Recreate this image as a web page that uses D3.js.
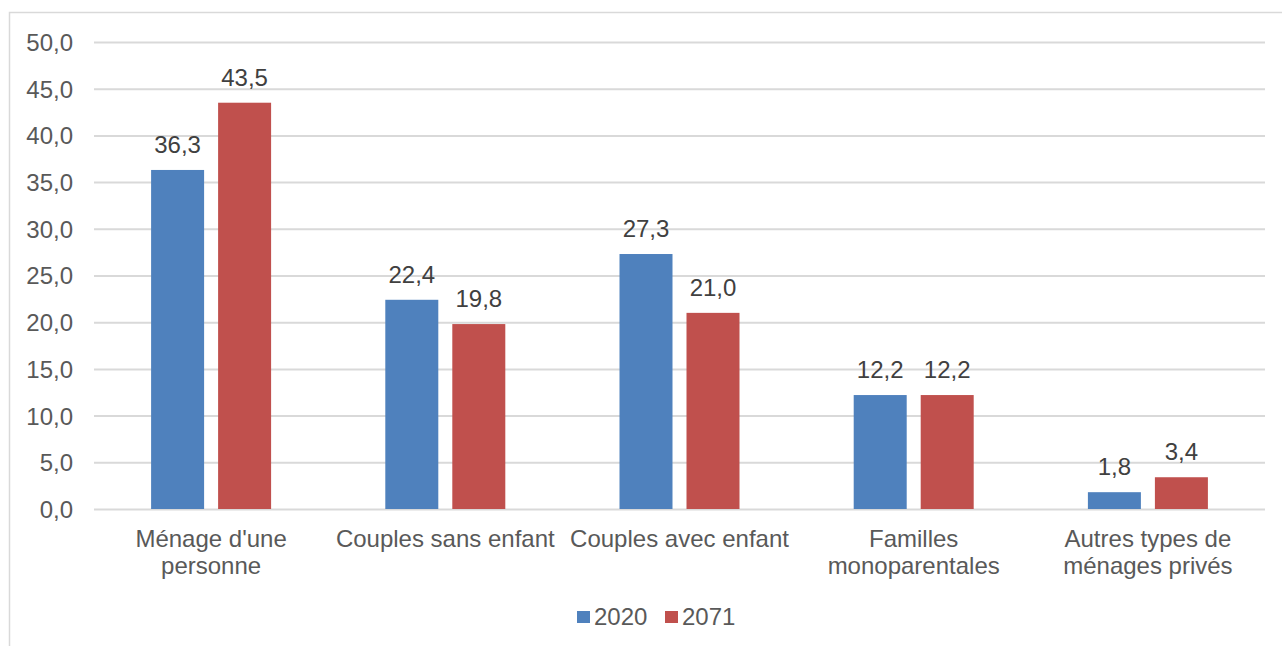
<!DOCTYPE html>
<html>
<head>
<meta charset="utf-8">
<script src="https://cdn.jsdelivr.net/npm/d3@7"></script>
<style>
  html, body { margin: 0; padding: 0; background: #fff; }
  svg { display: block; font-family: "Liberation Sans", Arial, sans-serif; }
</style>
</head>
<body>
<svg id="chart" width="1282" height="646"></svg>
<script>
// Household types (lines split for two-line axis labels)
const categories = [
  ["Ménage d'une", "personne"],
  ["Couples sans enfant"],
  ["Couples avec enfant"],
  ["Familles", "monoparentales"],
  ["Autres types de", "ménages privés"]
];
const seriesNames = ["2020", "2071"];
const values2020 = [36.3, 22.4, 27.3, 12.2, 1.8];
const values2071 = [43.5, 19.8, 21.0, 12.2, 3.4];
const yTicks = [0, 5, 10, 15, 20, 25, 30, 35, 40, 45, 50];
const colors = ["#4F81BD", "#C0504D"];

const fmt = v => d3.format(".1f")(v).replace(".", ",");
const FS = "24px";

const svg = d3.select("#chart");
const W = 1282, H = 646;
const plot = { left: 94, right: 1265, top: 42, bottom: 509 };

// Outer chart frame (extends past right/bottom edges)
svg.append("rect")
  .attr("x", 9.5).attr("y", 12.5)
  .attr("width", W + 10).attr("height", H + 10)
  .attr("fill", "none").attr("stroke", "#D9D9D9").attr("stroke-width", 1.5);

const x0 = d3.scaleBand()
  .domain(d3.range(categories.length))
  .range([plot.left, plot.right])
  .paddingInner(0).paddingOuter(0);

const y = d3.scaleLinear().domain([0, 50]).range([plot.bottom, plot.top]);

// Gridlines and y-axis labels
const yAxis = d3.axisLeft(y)
  .tickValues(yTicks)
  .tickSize(-(plot.right - plot.left))
  .tickPadding(21)
  .tickFormat(fmt);

const gy = svg.append("g")
  .attr("transform", `translate(${plot.left},0)`)
  .call(yAxis);
gy.select(".domain").remove();
gy.selectAll(".tick line").attr("stroke", "#D9D9D9").attr("stroke-width", 2);
gy.selectAll(".tick text")
  .attr("fill", "#595959")
  .style("font-size", FS)
  .attr("dy", "0.35em");

// Bars
const barW = 53, gap = 14;
const series = [values2020, values2071];
const offsets = [-(gap / 2 + barW), gap / 2];

series.forEach((vals, s) => {
  const g = svg.append("g");
  g.selectAll("rect")
    .data(vals)
    .join("rect")
    .attr("x", (d, i) => x0(i) + x0.bandwidth() / 2 + offsets[s])
    .attr("y", d => y(d))
    .attr("width", barW)
    .attr("height", d => y(0) - y(d))
    .attr("fill", colors[s]);

  g.selectAll("text")
    .data(vals)
    .join("text")
    .attr("x", (d, i) => x0(i) + x0.bandwidth() / 2 + offsets[s] + barW / 2)
    .attr("y", d => y(d) - 17)
    .attr("text-anchor", "middle")
    .attr("fill", "#404040")
    .style("font-size", FS)
    .text(d => fmt(d));
});

// Category labels
const gx = svg.append("g");
categories.forEach((lines, i) => {
  const t = gx.append("text")
    .attr("text-anchor", "middle")
    .attr("fill", "#595959")
    .style("font-size", FS);
  lines.forEach((ln, j) => {
    t.append("tspan")
      .attr("x", x0(i) + x0.bandwidth() / 2)
      .attr("y", 547 + j * 27)
      .text(ln);
  });
});

// Legend
const legend = svg.append("g");
const legendItems = [
  { name: seriesNames[0], color: colors[0], x: 577 },
  { name: seriesNames[1], color: colors[1], x: 665 }
];
legendItems.forEach(it => {
  legend.append("rect")
    .attr("x", it.x).attr("y", 611)
    .attr("width", 13).attr("height", 12)
    .attr("fill", it.color);
  legend.append("text")
    .attr("x", it.x + 17).attr("y", 625)
    .attr("fill", "#595959")
    .style("font-size", FS)
    .text(it.name);
});
</script>
</body>
</html>
